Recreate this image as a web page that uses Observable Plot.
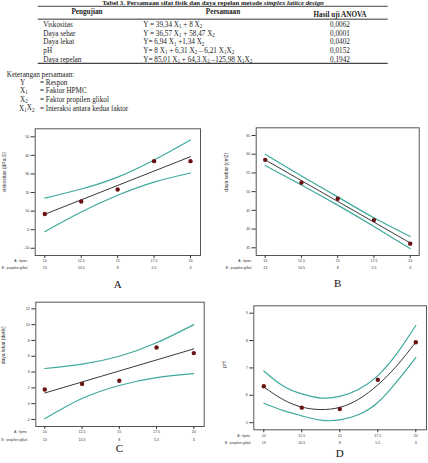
<!DOCTYPE html>
<html><head><meta charset="utf-8">
<script src="https://cdn.jsdelivr.net/npm/d3@7"></script>
<script src="https://cdn.jsdelivr.net/npm/@observablehq/plot@0.6"></script>
<style>
body{margin:0;background:#fff;}
#root{position:relative;width:428px;height:463px;overflow:hidden;}
#root svg{position:absolute;overflow:visible;}
</style></head><body><div id="root"></div>
<script>
// ---------- table data ----------
const tableTitle = "Tabel 3. Persamaan sifat fisik dan daya repelan metode ";
const tableTitleItalic = "simplex lattice design";
const headers = ["Pengujian", "Persamaan", "Hasil uji ANOVA"];
const pengujian = ["Viskositas", "Daya sebar", "Daya lekat", "pH", "Daya repelan"];
const persamaan = ["Y = 39,34 X_1 + 8 X_2", "Y = 36,57 X_1 + 58,47 X_2", "Y= 6,94 X_1 +1,34 X_2",
  "Y= 8 X_1 + 6,31 X_2 – 6,21 X_1X_2", "Y= 85,01 X_1 + 64,3 X_2 –125,98 X_1X_2"];
const anova = ["0,0062", "0,0001", "0,0402", "0,0152", "0,1942"];
const keteranganTitle = "Keterangan persamaan:";
const keteranganSymbols = ["Y", "X_1", "X_2", "X_1X_2"];
const keteranganText = ["= Respon", "= Faktor HPMC", "= Faktor propilen glikol", "= Interaksi antara kedua faktor"];

// ---------- chart data ----------
const hpmc = [10, 12.5, 15, 17.5, 20];
const propilenGlikol = [13, 10.5, 8, 5.5, 3];
const hpmcFine = [10, 11.25, 12.5, 13.75, 15, 16.25, 17.5, 18.75, 20];
const fitEndsX = [10, 20];

const viskositas = [8.4, 15.2, 21.6, 36.9, 36.9];
const fitA = [8.3, 39.3];
const upperA = [17.0, 21.9, 28.3, 37.5, 48.3];
const lowerA = [-1.1, 9.5, 18.5, 25.6, 30.5];

const dayaSebar = [58.5, 52.4, 48.1, 42.4, 36.1];
const fitB = [58.5, 36.3];
const upperB = [60.0, 54.2, 48.6, 43.0, 38.0];
const lowerB = [57.0, 51.8, 46.4, 40.7, 34.8];

const dayaLekat = [1.8, 2.5, 2.9, 7.1, 6.4];
const fitC = [1.35, 6.93];
const upperC = [4.45, 5.0, 6.0, 7.7, 10.0];
const lowerC = [-1.9, 0.65, 2.3, 3.3, 3.8];

const pH = [6.33, 5.55, 5.5, 6.57, 7.94];
const fitD = [6.31, 5.85, 5.57, 5.48, 5.56, 5.86, 6.38, 7.08, 7.94];
const upperD = [6.89, 6.35, 6.05, 5.9, 5.96, 6.22, 6.72, 7.52, 8.55];
const lowerD = [5.71, 5.45, 5.25, 5.09, 5.1, 5.3, 5.74, 6.5, 7.38];

const yTicksA = [-10, 0, 10, 20, 30, 40, 50];
const yTicksB = [35, 40, 45, 50, 55, 60, 65];
const yTicksC = [-2, 0, 2, 4, 6, 8, 10, 12];
const yTicksD = [5, 6, 7, 8, 9];
const rowLabels = ["A : hpmc", "B : propilen glikol"];

// ---------- table (SVG text) ----------
const root = d3.select("#root");
const tsvg = root.append("svg").attr("width", 428).attr("height", 120).style("left", "0px").style("top", "0px")
  .style("font-family", '"Liberation Serif", "Times New Roman", serif').style("fill", "#222");

function rich(sel, str) {
  const parts = str.split(/(_\d)/).filter(p => p !== "");
  let sub = false;
  parts.forEach(p => {
    if (p.startsWith("_")) {
      sel.append("tspan").attr("dy", "0.25em").attr("font-size", "0.7em").text(p.slice(1));
      sub = true;
    } else {
      sel.append("tspan").attr("dy", sub ? "-0.18em" : "0").text(p);
      sub = false;
    }
  });
}
const fs = 7.2;
const tt = tsvg.append("text").attr("x", 213).attr("y", 5.0).attr("text-anchor", "middle")
  .attr("font-weight", "bold").attr("font-size", 6.8);
tt.append("tspan").text(tableTitle);
tt.append("tspan").attr("font-style", "italic").text(tableTitleItalic);

tsvg.append("line").attr("x1", 37.7).attr("x2", 387.7).attr("y1", 6.3).attr("y2", 6.3).attr("stroke", "#444").attr("stroke-width", 1);
tsvg.append("line").attr("x1", 37.7).attr("x2", 387.7).attr("y1", 19.3).attr("y2", 19.3).attr("stroke", "#777").attr("stroke-width", 1.6);
tsvg.append("line").attr("x1", 37.7).attr("x2", 387.7).attr("y1", 63.3).attr("y2", 63.3).attr("stroke", "#444").attr("stroke-width", 1.2);

const headX = [87, 223, 340], headY = [14, 14, 16.7];
headers.forEach((h, i) => tsvg.append("text").attr("x", headX[i]).attr("y", headY[i]).attr("text-anchor", "middle")
  .attr("font-weight", "bold").attr("font-size", fs).text(h));
const rowY = [26.8, 36.0, 44.4, 53.0, 62.0];
pengujian.forEach((p, i) => {
  tsvg.append("text").attr("x", 43.3).attr("y", rowY[i]).attr("font-size", fs).text(p);
  rich(tsvg.append("text").attr("x", 143.3).attr("y", rowY[i]).attr("font-size", fs), persamaan[i]);
  tsvg.append("text").attr("x", 340).attr("y", rowY[i]).attr("text-anchor", "middle").attr("font-size", fs).text(anova[i]);
});
tsvg.append("text").attr("x", 6.7).attr("y", 77.3).attr("font-size", fs).text(keteranganTitle);
const ketY = [84.5, 93.2, 101.5, 110.5];
keteranganSymbols.forEach((s, i) => {
  rich(tsvg.append("text").attr("x", i === 3 ? 19 : 20).attr("y", ketY[i]).attr("font-size", fs), s);
  tsvg.append("text").attr("x", 40).attr("y", ketY[i]).attr("font-size", fs).text(keteranganText[i]);
});

// ---------- charts ----------
const teal = "#3fa99c", pointColor = "#6a1212", fitColor = "#3a3a3a";
const rows = (xs, ys) => xs.map((x, i) => ({x, y: ys[i]}));
const tickFs = 3.6;

function chart(o) {
  const svg = Plot.plot({
    width: o.width, height: o.height,
    marginLeft: o.ml, marginRight: o.mr, marginTop: o.mt, marginBottom: o.mb,
    style: {fontFamily: '"Liberation Sans", Arial, sans-serif', fontSize: tickFs + "px", color: "#333", background: "transparent", overflow: "visible"},
    x: {domain: [10, 20], insetLeft: o.insL, insetRight: o.insR},
    y: {domain: o.yDomain},
    marks: [
      Plot.frame({stroke: "#555", strokeWidth: 1}),
      Plot.axisY({ticks: o.yTicks, tickSize: 4, tickPadding: 2, label: null, fontSize: tickFs, tickFormat: d => String(d)}),
      Plot.axisX({ticks: hpmc, tickSize: 3, tickPadding: 1.2, label: null, fontSize: tickFs, tickFormat: d => String(d)}),
      Plot.text(hpmc, {x: d => d, text: (d, i) => String(propilenGlikol[i]), frameAnchor: "bottom", dy: o.row2, fontSize: tickFs}),
      Plot.text([rowLabels[0]], {frameAnchor: "bottom-left", dx: o.rowDx, dy: o.row1, textAnchor: "end", fontSize: 3.4}),
      Plot.text([rowLabels[1]], {frameAnchor: "bottom-left", dx: o.rowDx, dy: o.row2, textAnchor: "end", fontSize: 3.4}),
      Plot.text([o.yLabel], {frameAnchor: "left", rotate: -90, dx: o.labDx, fontSize: 5}),
      Plot.line(rows(o.bandX, o.upper), {x: "x", y: "y", stroke: teal, strokeWidth: 1.2, curve: "natural"}),
      Plot.line(rows(o.bandX, o.lower), {x: "x", y: "y", stroke: teal, strokeWidth: 1.2, curve: "natural"}),
      Plot.line(rows(o.fitX, o.fit), {x: "x", y: "y", stroke: fitColor, strokeWidth: 1, curve: "natural"}),
      Plot.dot(rows(hpmc, o.points), {x: "x", y: "y", fill: pointColor, r: 2.2}),
      Plot.text([o.letter], {x: () => 15, frameAnchor: "bottom", dy: o.letterDy, fontSize: 11, fontFamily: '"Liberation Serif", serif', fill: "#111"})
    ]
  });
  svg.style.left = o.left + "px";
  svg.style.top = o.top + "px";
  document.getElementById("root").appendChild(svg);
}

chart({left: 0, top: 120, width: 214, height: 180, ml: 34.7, mr: 14, mt: 8.3, mb: 45, insL: 9.6, insR: 10,
  yDomain: [-13.9, 54.3], yTicks: yTicksA, yLabel: "viskositas (dPa.S)", labDx: -31.2, rowDx: -7.7, row1: 6, row2: 13,
  points: viskositas, fit: fitA, fitX: fitEndsX, upper: upperA, lower: lowerA, bandX: hpmc, letter: "A", letterDy: 32});
chart({left: 214, top: 120, width: 214, height: 180, ml: 41.7, mr: 9.3, mt: 7.3, mb: 45, insL: 9, insR: 9,
  yDomain: [32.94, 67.06], yTicks: yTicksB, yLabel: "daya sebar (cm2)", labDx: -30, rowDx: -4.7, row1: 6, row2: 13.7,
  points: dayaSebar, fit: fitB, fitX: fitEndsX, upper: upperB, lower: lowerB, bandX: hpmc, letter: "B", letterDy: 31.7});
chart({left: 0, top: 300, width: 214, height: 163, ml: 35.3, mr: 10.3, mt: 1.7, mb: 37, insL: 9, insR: 10.4,
  yDomain: [-2.89, 12.84], yTicks: yTicksC, yLabel: "daya lekat (detik)", labDx: -32.3, rowDx: -8.6, row1: 6.7, row2: 14,
  points: dayaLekat, fit: fitC, fitX: fitEndsX, upper: upperC, lower: lowerC, bandX: hpmc, letter: "C", letterDy: 25.7});
chart({left: 214, top: 300, width: 214, height: 163, ml: 39.3, mr: 2, mt: 5.3, mb: 33.7, insL: 10, insR: 10.7,
  yDomain: [4.74, 9.27], yTicks: yTicksD, yLabel: "pH", labDx: -29.3, rowDx: -3.3, row1: 6.7, row2: 14,
  points: pH, fit: fitD, fitX: hpmcFine, upper: upperD, lower: lowerD, bandX: hpmcFine, letter: "D", letterDy: 26.7});
</script>
</body></html>
